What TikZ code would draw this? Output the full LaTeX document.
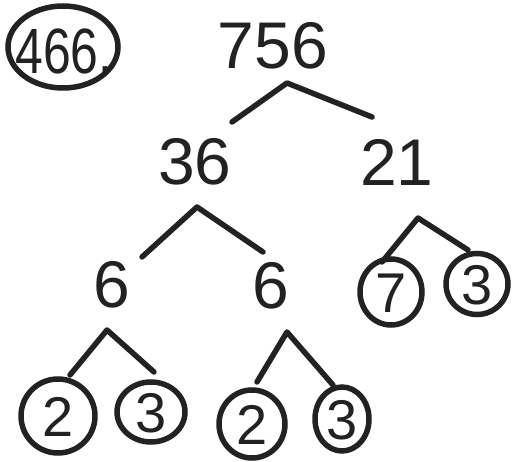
\documentclass[tikz,border=0pt]{standalone}
\usepackage{fontspec}
\setmainfont{Liberation Sans}
\usetikzlibrary{shapes.geometric}
\definecolor{ink}{HTML}{222222}
\tikzset{
  big/.style={font=\fontsize{66}{66}\selectfont, text=ink, inner sep=0pt},
  small/.style={font=\fontsize{56}{56}\selectfont, text=ink, inner sep=0pt},
  ring/.style={draw=ink, line width=5.5pt, ellipse},
  branch/.style={draw=ink, line width=5.5pt, line cap=round, line join=round},
}
\begin{document}
\begin{tikzpicture}[x=1pt,y=-1pt]
\useasboundingbox (0,0) rectangle (516,462);
% problem number
\node[ring, minimum width=110pt, minimum height=82pt] (num) at (63,47) {};
\node[big, font=\fontsize{64}{64}\selectfont, xscale=0.78] (numtext) at (64,51) {466.};
% tree numbers
\node[big] (n756) at (273,46) {756};
\node[big] (n36) at (195,162) {36};
\node[big] (n21) at (397,162) {21};
\node[big] (n6a) at (112,285) {6};
\node[big] (n6b) at (271,286) {6};
% circled leaves
\node[ring, minimum width=62pt, minimum height=66pt] (c7) at (391,292) {};
\node[small] (t7) at (391,293) {7};
\node[ring, minimum width=62pt, minimum height=61pt] (c3a) at (477,284) {};
\node[small] (t3a) at (477,285) {3};
\node[ring, minimum width=74pt, minimum height=74pt] (c2a) at (58,416) {};
\node[small] (t2a) at (58,417) {2};
\node[ring, minimum width=68pt, minimum height=60pt] (c3b) at (151,412) {};
\node[small] (t3b) at (151,413) {3};
\node[ring, minimum width=66pt, minimum height=68pt] (c2b) at (252,424) {};
\node[small] (t2b) at (252,425) {2};
\node[ring, minimum width=54pt, minimum height=64pt] (c3c) at (342,419) {};
\node[small] (t3c) at (342,420) {3};
% branch points
\coordinate (p756) at (287,83);
\coordinate (l756) at (232,122);
\coordinate (r756) at (372,117);
\coordinate (p36) at (197,207);
\coordinate (l36) at (142,257);
\coordinate (r36) at (263,252);
\coordinate (p21) at (418,218);
\coordinate (l21) at (382,262);
\coordinate (r21) at (468,250);
\coordinate (p6a) at (107,330);
\coordinate (l6a) at (70,375);
\coordinate (r6a) at (154,372);
\coordinate (p6b) at (287,332);
\coordinate (l6b) at (257,382);
\coordinate (r6b) at (333,385);
% branches
\draw[branch] (l756) -- (p756) -- (r756);
\draw[branch] (l36) -- (p36) -- (r36);
\draw[branch] (l21) -- (p21) -- (r21);
\draw[branch] (l6a) -- (p6a) -- (r6a);
\draw[branch] (l6b) -- (p6b) -- (r6b);
\end{tikzpicture}
\end{document}
